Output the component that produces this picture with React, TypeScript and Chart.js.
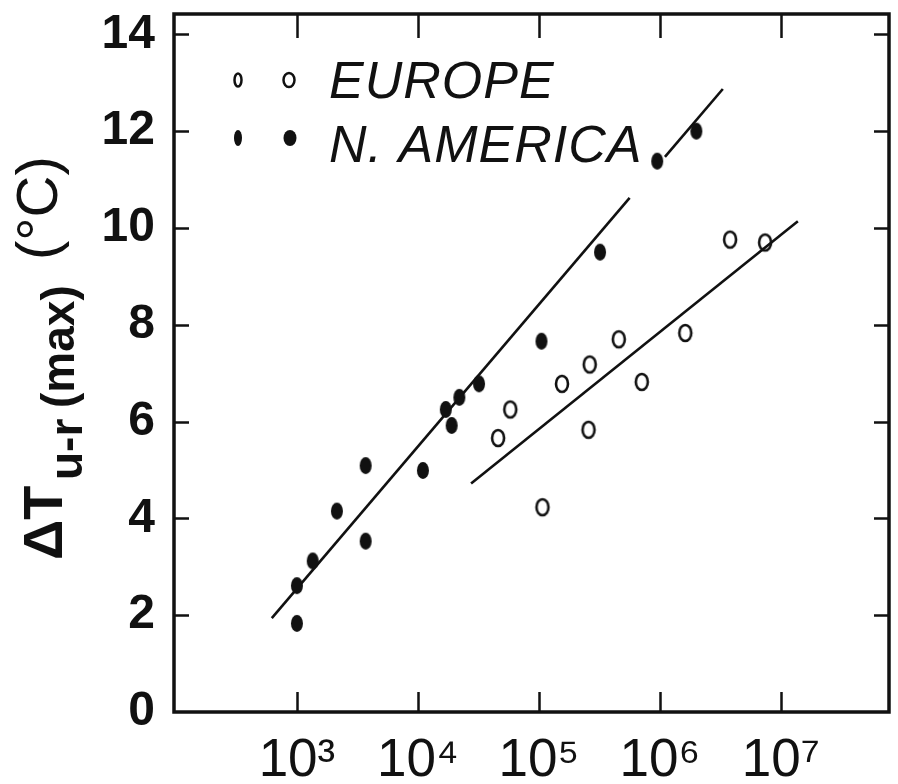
import React, { useEffect, useRef } from 'react';
import { Chart, registerables } from 'chart.js';

Chart.register(...registerables);

// ---- Data ----
const naX = [1000, 1000, 1350, 2140, 3700, 3700, 11000, 17000, 19000, 22000, 32000, 105000, 320000, 950000, 2000000];
const naY = [1.83, 2.61, 3.12, 4.15, 3.53, 5.09, 4.99, 6.25, 5.92, 6.5, 6.78, 7.66, 9.5, 11.38, 12.0];

const euX = [46000, 58000, 107000, 155000, 257000, 263000, 457000, 708000, 1620000, 3800000, 7400000];
const euY = [5.66, 6.25, 4.23, 6.78, 5.83, 7.18, 7.7, 6.82, 7.83, 9.76, 9.7];

const naFitX1 = [620, 562000];
const naFitY1 = [1.94, 10.62];
const naFitX2 = [1100000, 3310000];
const naFitY2 = [11.47, 12.87];
const euFitX = [27500, 13800000];
const euFitY = [4.72, 10.14];

const xTickValues = [1e3, 1e4, 1e5, 1e6, 1e7];
const xTickLabels = ['10³', '10⁴', '10⁵', '10⁶', '10⁷'];
const yTickValues = [0, 2, 4, 6, 8, 10, 12, 14];
const xMin = 96.4;
const xMax = 7.82e7;
const yMin = 0;
const yMax = 14.42;

const legendLabels = ['EUROPE', 'N. AMERICA'];
const yTitleParts = ['ΔT', 'u-r', '(max)', '(°C)'];

const INK = '#111111';
const SANS = '"Liberation Sans", Arial, Helvetica, sans-serif';

function ellipseCanvas(w: number, h: number, filled: boolean, lw: number) {
  const c = document.createElement('canvas');
  const pad = Math.ceil(lw) + 1;
  c.width = w + pad * 2;
  c.height = h + pad * 2;
  const g = c.getContext('2d')!;
  g.beginPath();
  g.ellipse(c.width / 2, c.height / 2, w / 2, h / 2, 0, 0, Math.PI * 2);
  if (filled) {
    g.fillStyle = INK;
    g.fill();
  } else {
    g.lineWidth = lw;
    g.strokeStyle = INK;
    g.stroke();
  }
  return c;
}

function drawEllipse(ctx: CanvasRenderingContext2D, cx: number, cy: number, w: number, h: number, filled: boolean) {
  ctx.beginPath();
  ctx.ellipse(cx, cy, w / 2, h / 2, 0, 0, Math.PI * 2);
  if (filled) {
    ctx.fillStyle = INK;
    ctx.fill();
  } else {
    ctx.lineWidth = 2.5;
    ctx.strokeStyle = INK;
    ctx.stroke();
  }
}

const framePlugin = {
  id: 'frameTicks',
  afterDatasetsDraw(chart: any) {
    const { ctx, chartArea: a, scales } = chart;
    const x = scales.x;
    const y = scales.y;
    ctx.save();
    ctx.strokeStyle = INK;
    ctx.lineCap = 'butt';
    ctx.lineWidth = 3.5;
    ctx.strokeRect(a.left, a.top, a.right - a.left, a.bottom - a.top);
    ctx.lineWidth = 2.5;
    ctx.beginPath();
    xTickValues.forEach((v) => {
      const px = Math.round(x.getPixelForValue(v)) + 0.5;
      ctx.moveTo(px, a.bottom);
      ctx.lineTo(px, a.bottom - 20);
      ctx.moveTo(px, a.top);
      ctx.lineTo(px, a.top + 24);
    });
    yTickValues.forEach((v) => {
      if (v === yMin) return;
      const py = Math.round(y.getPixelForValue(v)) + 0.5;
      ctx.moveTo(a.left, py);
      ctx.lineTo(a.left + 15, py);
      ctx.moveTo(a.right, py);
      ctx.lineTo(a.right - 15, py);
    });
    ctx.stroke();
    ctx.restore();
  },
  afterDraw(chart: any) {
    const { ctx, chartArea: a } = chart;
    ctx.save();
    // ---- Legend (inside plot, top-left) ----
    const lx = a.left;
    const ty = a.top;
    drawEllipse(ctx, lx + 64, ty + 66, 7, 13, false);
    drawEllipse(ctx, lx + 115, ty + 66, 11, 14, false);
    drawEllipse(ctx, lx + 64, ty + 124, 8, 16, true);
    drawEllipse(ctx, lx + 116, ty + 124, 13, 16, true);
    ctx.fillStyle = INK;
    ctx.textAlign = 'left';
    ctx.textBaseline = 'alphabetic';
    ctx.font = `italic 52px ${SANS}`;
    (ctx as any).letterSpacing = '1px';
    ctx.fillText(legendLabels[0], lx + 155, ty + 84);
    ctx.fillText(legendLabels[1], lx + 155, ty + 148);
    (ctx as any).letterSpacing = '0px';

    // ---- Y axis title: ΔT u-r (max) (°C), rotated ----
    ctx.translate(62, 560);
    ctx.rotate(-Math.PI / 2);
    ctx.font = `bold 56px ${SANS}`;
    ctx.fillText(yTitleParts[0], 0, 0);
    ctx.font = `bold 46px ${SANS}`;
    ctx.fillText(yTitleParts[1], 80, 20);
    ctx.font = `bold 46px ${SANS}`;
    ctx.fillText(yTitleParts[2], 152, 12);
    ctx.font = `58px ${SANS}`;
    ctx.fillText(yTitleParts[3], 300, -5);
    ctx.restore();
  },
};

export default function App() {
  const ref = useRef<HTMLCanvasElement | null>(null);

  useEffect(() => {
    if (!ref.current) return;
    const openImg = ellipseCanvas(12, 16, false, 2.6);
    const fillImg = ellipseCanvas(12, 17, true, 0);

    const toPts = (xs: number[], ys: number[]) => xs.map((v, i) => ({ x: v, y: ys[i] }));
    const fitStyle = {
      showLine: true,
      pointRadius: 0,
      borderColor: INK,
      borderWidth: 2.6,
      fill: false,
      tension: 0,
    };

    const chart = new Chart(ref.current, {
      type: 'scatter',
      data: {
        datasets: [
          {
            label: legendLabels[1],
            data: toPts(naX, naY),
            pointStyle: fillImg as any,
            pointRadius: 8,
            showLine: false,
          },
          {
            label: legendLabels[0],
            data: toPts(euX, euY),
            pointStyle: openImg as any,
            pointRadius: 8,
            showLine: false,
          },
          { label: 'NA fit', data: toPts(naFitX1, naFitY1), ...fitStyle },
          { label: 'NA fit 2', data: toPts(naFitX2, naFitY2), ...fitStyle },
          { label: 'EU fit', data: toPts(euFitX, euFitY), ...fitStyle },
        ] as any,
      },
      options: {
        animation: false,
        responsive: false,
        devicePixelRatio: 1,
        events: [],
        layout: { padding: { left: 0, top: 14, right: 3, bottom: 0 } },
        plugins: {
          legend: { display: false },
          tooltip: { enabled: false },
          title: { display: false },
        },
        scales: {
          x: {
            type: 'logarithmic',
            min: xMin,
            max: xMax,
            grid: { display: false, drawTicks: false },
            border: { display: false },
            afterBuildTicks: (scale: any) => {
              scale.ticks = xTickValues.map((v) => ({ value: v }));
            },
            afterFit: (scale: any) => {
              scale.height = 72;
              scale.paddingLeft = 0;
              scale.paddingRight = 0;
            },
            ticks: {
              autoSkip: false,
              maxRotation: 0,
              minRotation: 0,
              padding: 18,
              color: INK,
              font: { family: SANS, size: 53, weight: 'normal' },
              callback: (v: any) => {
                const i = xTickValues.indexOf(Number(v));
                return i >= 0 ? xTickLabels[i] : '';
              },
            },
          },
          y: {
            type: 'linear',
            min: yMin,
            max: yMax,
            grid: { display: false, drawTicks: false },
            border: { display: false },
            afterBuildTicks: (scale: any) => {
              scale.ticks = yTickValues.map((v) => ({ value: v }));
            },
            afterFit: (scale: any) => {
              scale.width = 174;
              scale.paddingTop = 0;
              scale.paddingBottom = 0;
            },
            ticks: {
              autoSkip: false,
              padding: 19,
              color: INK,
              font: { family: SANS, size: 48, weight: 'bold', lineHeight: 0.5 },
              callback: (v: any) => String(v),
            },
          },
        },
      } as any,
      plugins: [framePlugin as any],
    });

    return () => chart.destroy();
  }, []);

  return (
    <div style={{ position: 'fixed', left: 0, top: 0, width: 898, height: 784, background: '#ffffff' }}>
      <canvas ref={ref} width={898} height={784} style={{ display: 'block' }} />
    </div>
  );
}
